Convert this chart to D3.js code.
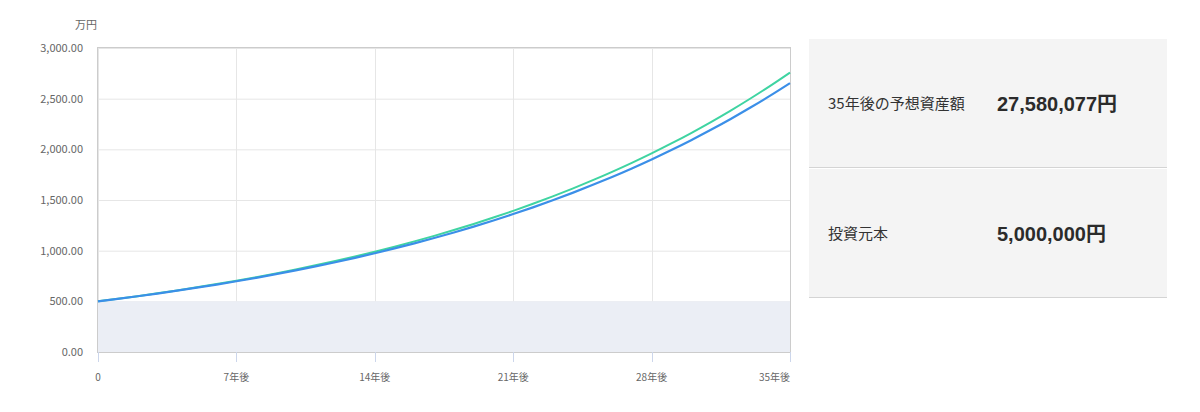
<!DOCTYPE html>
<html><head><meta charset="utf-8">
<script src="https://cdn.jsdelivr.net/npm/d3@7"></script>
<style>
body{margin:0;background:#fff;font-family:"Noto Sans CJK JP","Noto Sans",sans-serif;}
svg{display:block}
</style></head>
<body>
<svg id="c" width="1200" height="412"></svg>
<script>
const years = d3.range(0,36);
const expected = [500,525,551.25,578.81,607.75,638.14,670.05,703.55,738.73,775.66,814.45,855.17,897.93,942.82,989.97,1039.46,1091.44,1146.01,1203.31,1263.48,1326.65,1392.98,1462.63,1535.77,1612.55,1693.18,1777.84,1866.73,1960.07,2058.07,2160.97,2269.02,2382.48,2501.60,2626.68,2758.01];
const afterCost = [500,524.4,550.0,576.9,605.1,634.6,665.6,698.1,732.2,768.0,805.5,844.9,886.1,929.4,974.8,1022.4,1072.3,1124.7,1179.7,1237.3,1297.7,1361.1,1427.6,1497.3,1570.4,1647.1,1727.6,1812.0,1900.5,1993.3,2090.6,2192.7,2299.8,2412.2,2530.0,2653.6];
const principal = years.map(()=>500);
const xTicks = [0,7,14,21,28,35];
const xTickLabels = ["0","7年後","14年後","21年後","28年後","35年後"];
const yTicks = [0,500,1000,1500,2000,2500,3000];
const unitLabel = "万円";
const summaryLabels = ["35年後の予想資産額","投資元本"];
const summaryValues = ["27,580,077円","5,000,000円"];

const svg = d3.select("#c");
const L=98,R=790,T=48,B=352;
const x = d3.scaleLinear().domain([0,35]).range([L,R]);
const y = d3.scaleLinear().domain([0,3000]).range([B,T]);

// grid
svg.append("g").selectAll("line").data(yTicks).join("line")
  .attr("x1",L).attr("x2",R).attr("y1",d=>y(d)+0.5).attr("y2",d=>y(d)+0.5)
  .attr("stroke","#e6e6e6").attr("stroke-width",1);
svg.append("g").selectAll("line").data(xTicks).join("line")
  .attr("x1",d=>Math.round(x(d))+0.5).attr("x2",d=>Math.round(x(d))+0.5).attr("y1",T).attr("y2",B)
  .attr("stroke","#e6e6e6").attr("stroke-width",1);

// principal area
svg.append("path").datum(years)
  .attr("d", d3.area().x(d=>x(d)).y0(y(0)).y1(d=>y(principal[d])))
  .attr("fill","#ebeef5");

// plot border
svg.append("rect").attr("x",L-0.5).attr("y",T-0.5).attr("width",R-L+1).attr("height",B-T+1)
  .attr("fill","none").attr("stroke","#cccccc").attr("stroke-width",1);

// x ticks
svg.append("g").selectAll("line").data(xTicks).join("line")
  .attr("x1",d=>Math.round(x(d))+0.5).attr("x2",d=>Math.round(x(d))+0.5).attr("y1",B).attr("y2",B+10)
  .attr("stroke","#ccd6eb");

// lines
const line = arr => d3.line().x(d=>x(d)).y(d=>y(arr[d])).curve(d3.curveMonotoneX);
svg.append("path").datum(years).attr("d",line(expected))
  .attr("fill","none").attr("stroke","#3fd4a2").attr("stroke-width",2);
svg.append("path").datum(years).attr("d",line(afterCost))
  .attr("fill","none").attr("stroke","#3b8fe8").attr("stroke-width",2.2);

// axis labels
const fmt = d3.format(",.2f");
svg.append("g").selectAll("text").data(yTicks).join("text")
  .attr("x",83).attr("y",d=>y(d)+4).attr("text-anchor","end")
  .attr("font-size",11).attr("fill","#666").text(d=>fmt(d));
svg.append("g").selectAll("text").data(xTicks).join("text")
  .attr("x",d=>x(d)).attr("y",381)
  .attr("text-anchor",(d,i)=>i===0?"middle":(i===xTicks.length-1?"end":"middle"))
  .attr("font-size",10).attr("fill","#666").text((d,i)=>xTickLabels[i]);
svg.append("text").attr("x",97).attr("y",29).attr("text-anchor","end")
  .attr("font-size",11).attr("fill","#666").text(unitLabel);

// summary panel
const boxes = [{y0:39,y1:168},{y0:169,y1:298}];
const g = svg.append("g");
boxes.forEach((b,i)=>{
  g.append("rect").attr("x",809).attr("y",b.y0).attr("width",358).attr("height",b.y1-b.y0).attr("fill","#f4f4f4");
  g.append("line").attr("x1",809).attr("x2",1167).attr("y1",b.y1-0.5).attr("y2",b.y1-0.5).attr("stroke","#d4d4d4");
  const cy=(b.y0+b.y1)/2;
  g.append("text").attr("x",828).attr("y",cy+5).attr("font-size",15).attr("fill","#333").text(summaryLabels[i]);
  g.append("text").attr("x",997).attr("y",cy+7).attr("font-size",20).attr("font-weight","bold")
    .attr("font-family","'Liberation Sans','Noto Sans CJK JP',sans-serif").attr("fill","#2b2b2b").text(summaryValues[i]);
});
</script>
</body></html>
